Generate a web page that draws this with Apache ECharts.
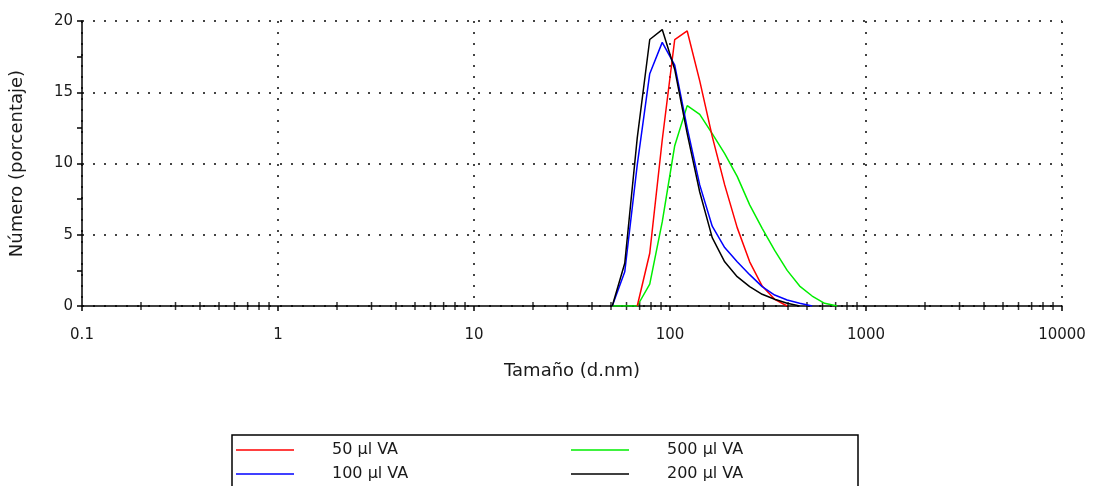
<!DOCTYPE html>
<html>
<head>
<meta charset="utf-8">
<title>Distribución de tamaño por número</title>
<script src="https://cdn.jsdelivr.net/npm/echarts@6.0.0/dist/echarts.min.js"></script>
<style>
  html, body { margin: 0; padding: 0; background: #fff; }
  #main { width: 1093px; height: 486px; }
</style>
</head>
<body>
<div id="main"></div>
<script>
// tamaños de los bins (d.nm)
var sizes = [50.75, 58.77, 68.06, 78.82, 91.28, 105.7, 122.4, 141.8, 164.2, 190.1,
             220.2, 255.0, 295.3, 342.0, 396.1, 458.7, 531.2, 615.1, 712.4];

// Número (%) por muestra, null = fuera del rango medido
var va50  = [null, null, 0, 3.7, 11.65, 18.7, 19.3, 15.8, 11.9, 8.5, 5.5, 3.1, 1.4, 0.47, 0, null, null, null, null];
var va100 = [0, 2.4, 9.9, 16.3, 18.5, 16.9, 12.5, 8.5, 5.6, 4.1, 3.1, 2.2, 1.36, 0.77, 0.42, 0.19, 0, null, null];
var va500 = [0, 0, 0, 1.54, 5.9, 11.25, 14.06, 13.45, 12.1, 10.7, 9.1, 7.1, 5.45, 3.9, 2.5, 1.4, 0.7, 0.19, 0];
var va200 = [0, 3.0, 11.8, 18.7, 19.4, 16.6, 12.1, 8.0, 4.8, 3.1, 2.06, 1.36, 0.82, 0.47, 0.19, 0, null, null, null];

var xTickLabels = ['0.1', '1', '10', '100', '1000', '10000'];
var yTicks = [0, 5, 10, 15, 20];

// marcas menores del eje log (2..9 x 10^k)
var minorTicks = [];
for (var d = 0; d < xTickLabels.length - 1; d++) {
  for (var m = 2; m <= 9; m++) {
    minorTicks.push([+(m * Number(xTickLabels[d])).toPrecision(6), 0]);
  }
}

function pairs(vals) {
  return sizes.map(function (s, i) { return [s, vals[i]]; })
              .filter(function (p) { return p[1] !== null; });
}

window.addEventListener('load', function () {
  var chart = echarts.init(document.getElementById('main'));
  var font = 'DejaVu Sans';
  var dotted = { color: '#444', width: 2, type: [2, 9] };
  var legendText = { fontSize: 16, color: '#1a1a1a', lineHeight: 18, padding: [0, 0, 0, 33] };

  chart.setOption({
    animation: false,
    textStyle: { fontFamily: font },
    grid: { left: 82, top: 21, width: 980, height: 285, containLabel: false, outerBoundsMode: 'none' },
    xAxis: {
      type: 'log',
      logBase: 10,
      min: 0.1,
      max: 10000,
      name: 'Tamaño (d.nm)',
      nameLocation: 'middle',
      nameGap: 56,
      nameTextStyle: { fontSize: 18, color: '#1a1a1a', fontFamily: font },
      axisLine: { lineStyle: { color: '#000', width: 1.5 } },
      axisTick: { show: true, length: 5, lineStyle: { color: '#000', width: 1.5 } },
      axisLabel: {
        fontSize: 15, color: '#1a1a1a', margin: 22,
        formatter: function (v) {
          var s = String(+Number(v).toPrecision(6));
          return xTickLabels.indexOf(s) >= 0 ? s : '';
        }
      },
      splitLine: { show: true, lineStyle: dotted }
    },
    yAxis: {
      type: 'value',
      min: yTicks[0],
      max: yTicks[yTicks.length - 1],
      interval: 5,
      name: 'Número (porcentaje)',
      nameLocation: 'middle',
      nameGap: 56,
      nameTextStyle: { fontSize: 18, color: '#1a1a1a', fontFamily: font },
      axisLine: { show: true, lineStyle: { color: '#000', width: 1.5 } },
      axisTick: { show: true, length: 5, lineStyle: { color: '#000', width: 1.5 } },
      minorTick: { show: true, splitNumber: 2, length: 5, lineStyle: { color: '#000', width: 1.5 } },
      axisLabel: { fontSize: 15, color: '#1a1a1a', margin: 9 },
      splitLine: { show: true, lineStyle: dotted }
    },
    legend: [
      {
        data: [{ name: '50 µl VA', icon: 'rect' }, { name: '100 µl VA', icon: 'rect' }],
        orient: 'vertical', left: 236, top: 441, padding: 0,
        itemWidth: 58, itemHeight: 1.5, itemGap: 6,
        textStyle: legendText
      },
      {
        data: [{ name: '500 µl VA', icon: 'rect' }, { name: '200 µl VA', icon: 'rect' }],
        orient: 'vertical', left: 571, top: 441, padding: 0,
        itemWidth: 58, itemHeight: 1.5, itemGap: 6,
        textStyle: legendText
      }
    ],
    graphic: [
      {
        type: 'rect',
        shape: { x: 232, y: 435, width: 626, height: 70 },
        style: { fill: 'none', stroke: '#000', lineWidth: 1.5 },
        silent: true
      }
    ],
    series: [
      {
        name: 'marcas', type: 'scatter', data: minorTicks,
        symbol: 'rect', symbolSize: [1.5, 8],
        itemStyle: { color: '#000' }, silent: true, z: 1
      },
      {
        name: '500 µl VA', type: 'line', data: pairs(va500),
        showSymbol: false, symbol: 'none', color: '#00ee00',
        lineStyle: { width: 1.5, color: '#00ee00' }
      },
      {
        name: '50 µl VA', type: 'line', data: pairs(va50),
        showSymbol: false, symbol: 'none', color: '#ff0000',
        lineStyle: { width: 1.5, color: '#ff0000' }
      },
      {
        name: '100 µl VA', type: 'line', data: pairs(va100),
        showSymbol: false, symbol: 'none', color: '#0000ff',
        lineStyle: { width: 1.5, color: '#0000ff' }
      },
      {
        name: '200 µl VA', type: 'line', data: pairs(va200),
        showSymbol: false, symbol: 'none', color: '#000000',
        lineStyle: { width: 1.5, color: '#000000' }
      }
    ]
  });
});
</script>
</body>
</html>
